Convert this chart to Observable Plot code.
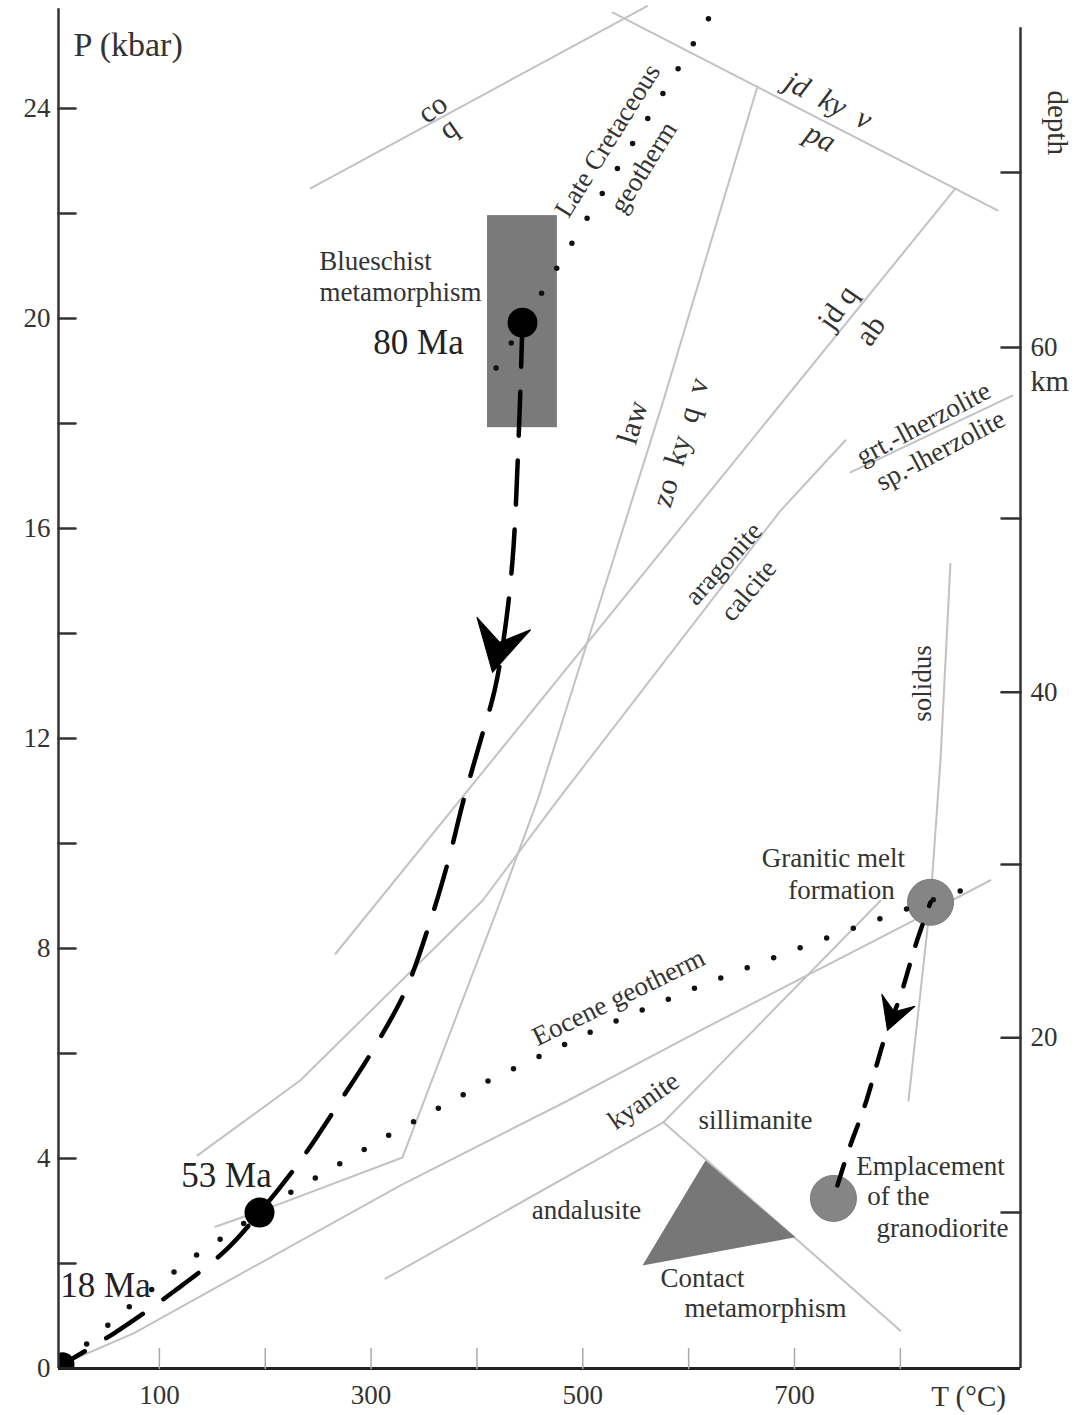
<!DOCTYPE html>
<html><head><meta charset="utf-8">
<script src="https://cdn.jsdelivr.net/npm/d3@7"></script>
<script src="https://cdn.jsdelivr.net/npm/@observablehq/plot@0.6"></script>
<style>body{margin:0;background:#fff} #chart svg{display:block}</style>
</head><body><div id="chart"></div>
<script>
// ---------- axes ----------
const T_DOMAIN = [4.7, 913.5];
const P_DOMAIN = [0, 26];
const P_TOP_LEFT = 25.9;
const P_TOP_RIGHT = 25.54;
const xTickValues = [100, 200, 300, 400, 500, 600, 700, 800];
const xTickLabels = [100, 300, 500, 700];
const yTickValues = [2, 4, 6, 8, 10, 12, 14, 16, 18, 20, 22, 24];
const yTickLabels = [0, 4, 8, 12, 16, 20, 24];
const depthTickP = [2.97, 6.30, 9.60, 12.88, 16.19, 19.45, 22.78];
const depthTickKm = ["", "20", "", "40", "", "60", ""];

// ---------- reaction lines [T (°C), P (kbar)] ----------
const coqLine = [[242.8, 22.48], [560.8, 25.95]];
const jdKyVPaLine = [[528.1, 25.83], [891.8, 22.06]];
const lawLine = [[665.0, 24.42], [576.2, 18.44], [457.2, 10.82], [422.3, 8.91], [329.7, 4.02], [214.4, 3.14], [153.0, 2.70]];
const jdQAbLine = [[852.1, 22.48], [266.4, 7.90]];
const aragoniteCalciteLine = [[748.2, 17.68], [686.8, 16.34], [476.1, 10.82], [405.2, 8.91], [233.3, 5.49], [136.0, 4.06]];
const lherzoliteLine = [[752.9, 17.07], [905.9, 18.53]];
const longLine = [[11.3, 0.11], [75.6, 0.67], [327.8, 3.49], [485.6, 5.10], [611.2, 6.44], [812.4, 8.53], [885.1, 9.30]];
const kyAndLine = [[313.6, 1.71], [576.2, 4.69]];
const kySillLine = [[576.2, 4.69], [781.2, 8.91]];
const andSillLine = [[576.2, 4.69], [800.1, 0.72]];
const solidusLine = [[847.3, 15.33], [837.9, 11.58], [828.5, 8.91], [807.7, 5.10]];

// ---------- geotherms ----------
const lateCretaceousGeotherm = [[618.7, 25.71], [405.2, 18.63]];
const eoceneGeotherm = [[11.3, 0.11], [66.1, 1.09], [131.3, 2.11], [222.0, 3.33], [316.5, 4.44], [412.8, 5.50], [514.8, 6.48], [615.9, 7.33], [717.9, 8.11], [820.9, 8.86], [872.8, 9.20]];

// ---------- P-T paths ----------
const exhumationPath = [[443.0, 19.92], [439.3, 17.68], [433.6, 15.39], [425.1, 13.87], [416.6, 12.91], [403.4, 11.96], [387.3, 10.82], [373.1, 9.68], [356.1, 8.53], [332.5, 7.20], [304.2, 6.15], [271.1, 5.10], [233.3, 3.96], [194.6, 2.97], [162.5, 2.25], [115.2, 1.49], [58.6, 0.69], [11.3, 0.11]];
const granitePath = [[828.5, 8.88], [814.3, 8.06], [800.1, 7.10], [785.9, 6.34], [767.1, 5.05], [751.0, 4.15], [736.8, 3.24]];
const arrowTips = [{T: 414.7, P: 13.26, dir: 193}, {T: 787.8, P: 6.44, dir: 200}];

// ---------- fields ----------
const blueschistBox = [{T1: 410, T2: 476, P1: 17.92, P2: 21.96}];
const contactTriangle = [[615.9, 3.96], [556.4, 1.96], [700.9, 2.50]];
const meltSpots = [{T: 828.5, P: 8.88}, {T: 736.8, P: 3.24}];
const ageSpots = [{T: 443.0, P: 19.92, age: "80 Ma"}, {T: 194.6, P: 2.97, age: "53 Ma"}];
const originSpot = [{T: 8.5, P: 0.08, age: "18 Ma"}];

// ---------- labels ----------
const fieldLabels = [
  {text: "Blueschist", T: 304.2, P: 21.09},
  {text: "metamorphism", T: 327.8, P: 20.50},
  {text: "Granitic melt", T: 736.8, P: 9.71},
  {text: "formation", T: 744.4, P: 9.10},
  {text: "Emplacement", T: 828.5, P: 3.85},
  {text: "of the", T: 798.2, P: 3.28},
  {text: "granodiorite", T: 839.8, P: 2.67},
  {text: "Contact", T: 613.1, P: 1.71},
  {text: "metamorphism", T: 672.6, P: 1.14},
  {text: "andalusite", T: 503.5, P: 3.01},
  {text: "sillimanite", T: 663.1, P: 4.72}
];
const lineLabels = [
  {text: "Late Cretaceous", T: 523.3, P: 23.39, rot: -58},
  {text: "geotherm", T: 557.3, P: 22.88, rot: -58},
  {text: "Eocene geotherm", T: 533.7, P: 7.07, rot: -26},
  {text: "kyanite", T: 557.3, P: 5.10, rot: -35},
  {text: "aragonite", T: 632.9, P: 15.33, rot: -48},
  {text: "calcite", T: 656.5, P: 14.82, rot: -50},
  {text: "grt.-lherzolite", T: 821.8, P: 18.0, rot: -28},
  {text: "sp.-lherzolite", T: 837.9, P: 17.49, rot: -28},
  {text: "solidus", T: 820.9, P: 13.05, rot: -90}
];
const phaseLabels = [
  {text: "co", T: 358, P: 24.0, rot: -35},
  {text: "q", T: 373, P: 23.62, rot: -35},
  {text: "jd q", T: 740.6, P: 20.21, rot: -55},
  {text: "ab", T: 771.8, P: 19.77, rot: -55},
  {text: "law", T: 547, P: 18.02, rot: -73},
  {text: "zo  ky  q  v", T: 592.3, P: 17.64, rot: -73}
];
const italicLabels = [
  {text: "jd  ky  v", T: 732.1, P: 24.15, rot: 27},
  {text: "pa", T: 724.5, P: 23.45, rot: 27}
];
const ageLabels = [
  {text: "80 Ma", T: 344.8, P: 19.54},
  {text: "53 Ma", T: 163.4, P: 3.68},
  {text: "18 Ma", T: 49.1, P: 1.58}
];
const axisTitles = [
  {text: "P (kbar)", T: 18.9, P: 25.2, anchor: "start", rot: 0},
  {text: "T (°C)", T: 864.4, P: -0.53, anchor: "middle", rot: 0},
  {text: "depth", T: 948.4, P: 23.73, anchor: "middle", rot: 90},
  {text: "km", T: 922.9, P: 18.8, anchor: "start", rot: 0}
];

// ---------- build ----------
const rows = (id, pts) => pts.map(([T, P]) => ({id, T, P}));
const reactionRows = [
  ...rows("coq", coqLine), ...rows("jdkyv", jdKyVPaLine), ...rows("law", lawLine),
  ...rows("jdqab", jdQAbLine), ...rows("arag", aragoniteCalciteLine), ...rows("lherz", lherzoliteLine),
  ...rows("long", longLine), ...rows("kyand", kyAndLine), ...rows("kysill", kySillLine),
  ...rows("andsill", andSillLine), ...rows("solidus", solidusLine)
];
const tickShape = {draw(ctx, l) { ctx.moveTo(0, 0); ctx.lineTo(0, -l); }};
const arrowShape = {draw(ctx, l) {
  ctx.moveTo(0, -l); ctx.lineTo(0.55 * l, 0); ctx.lineTo(0, -0.38 * l); ctx.lineTo(-0.55 * l, 0); ctx.closePath();
}};
const TXT = "#333";
const LINE = "#c2c2c2";
const depthLabelOf = new Map(depthTickP.map((p, i) => [p, depthTickKm[i]]));

const chart = Plot.plot({
  width: 1085, height: 1415,
  marginLeft: 58, marginRight: 65, marginTop: 3, marginBottom: 47,
  x: {domain: T_DOMAIN},
  y: {domain: P_DOMAIN},
  style: {fontFamily: "'Liberation Serif', 'Times New Roman', serif", background: "#fff", color: "#222"},
  marks: [
    Plot.line(reactionRows, {x: "T", y: "P", z: "id", stroke: LINE, strokeWidth: 2}),
    Plot.rect(blueschistBox, {x1: "T1", x2: "T2", y1: "P1", y2: "P2", fill: "#7a7a7a"}),
    Plot.line(rows("tri", contactTriangle), {x: "T", y: "P", fill: "#777", stroke: "none"}),
    Plot.dot(meltSpots, {x: "T", y: "P", r: 23, fill: "#858585", stroke: "#7a7a7a", strokeWidth: 1}),
    Plot.line(rows("lk", lateCretaceousGeotherm), {x: "T", y: "P", stroke: "#111", strokeWidth: 5.5, strokeDasharray: "0,29.2", strokeLinecap: "round"}),
    Plot.line(rows("eo", eoceneGeotherm), {x: "T", y: "P", stroke: "#111", strokeWidth: 5.5, strokeDasharray: "0,28.3", strokeLinecap: "round"}),
    Plot.line(rows("ex", exhumationPath), {x: "T", y: "P", stroke: "#000", strokeWidth: 4.5, strokeDasharray: "44,25", curve: "catmull-rom"}),
    Plot.line(rows("gr", granitePath), {x: "T", y: "P", stroke: "#000", strokeWidth: 4.5, strokeDasharray: "22,20", strokeDashoffset: -24, curve: "catmull-rom"}),
    Plot.vector(arrowTips.slice(0, 1), {x: "T", y: "P", rotate: "dir", length: 50, anchor: "end", shape: arrowShape, fill: "#000", stroke: "#000", strokeWidth: 1}),
    Plot.vector(arrowTips.slice(1), {x: "T", y: "P", rotate: "dir", length: 32, anchor: "end", shape: arrowShape, fill: "#000", stroke: "#000", strokeWidth: 1}),
    Plot.dot(ageSpots, {x: "T", y: "P", r: 15, fill: "#000"}),
    Plot.dot(originSpot, {x: "T", y: "P", r: 12, fill: "#000", clip: true}),
    Plot.ruleX([T_DOMAIN[0]], {y1: 0, y2: P_TOP_LEFT, stroke: "#333", strokeWidth: 2.5}),
    Plot.ruleX([T_DOMAIN[1]], {y1: 0, y2: P_TOP_RIGHT, stroke: "#333", strokeWidth: 2.5}),
    Plot.ruleY([0], {x1: T_DOMAIN[0], x2: T_DOMAIN[1], stroke: "#222", strokeWidth: 3}),
    Plot.vector(xTickValues, {x: d => d, y: 0, length: 20, rotate: 0, anchor: "start", shape: tickShape, stroke: "#aaa", strokeWidth: 1.5}),
    Plot.vector(yTickValues, {x: T_DOMAIN[0], y: d => d, length: 17, rotate: 90, anchor: "start", shape: tickShape, stroke: "#333", strokeWidth: 2.5}),
    Plot.vector(depthTickP, {x: T_DOMAIN[1], y: d => d, length: 19, rotate: -90, anchor: "start", shape: tickShape, stroke: "#333", strokeWidth: 2.5}),
    Plot.axisX(xTickLabels, {tickSize: 0, tickPadding: 16, fontSize: 27, color: TXT, label: null, tickFormat: d => String(d)}),
    Plot.axisY(yTickLabels, {tickSize: 0, tickPadding: 8, fontSize: 27, color: TXT, label: null, tickFormat: d => String(d)}),
    Plot.axisY(depthTickP, {anchor: "right", tickSize: 0, tickPadding: 10, fontSize: 27, color: TXT, label: null, tickFormat: d => depthLabelOf.get(d)}),
    Plot.text(fieldLabels, {x: "T", y: "P", text: "text", fontSize: 27, fill: TXT}),
    Plot.text(lineLabels, {x: "T", y: "P", text: "text", rotate: "rot", fontSize: 27, fill: TXT}),
    Plot.text(phaseLabels, {x: "T", y: "P", text: "text", rotate: "rot", fontSize: 30, fill: TXT}),
    Plot.text(italicLabels, {x: "T", y: "P", text: "text", rotate: "rot", fontSize: 30, fontStyle: "italic", fill: TXT}),
    Plot.text(ageLabels, {x: "T", y: "P", text: "text", fontSize: 35, fill: "#222"}),
    Plot.text(axisTitles, {x: "T", y: "P", text: "text", rotate: "rot", textAnchor: "start", fontSize: 30, fill: TXT, filter: d => d.anchor === "start" && d.text !== "P (kbar)"}),
    Plot.text(axisTitles, {x: "T", y: "P", text: "text", rotate: "rot", fontSize: 29, fill: TXT, filter: d => d.anchor === "middle"}),
    Plot.text(axisTitles, {x: "T", y: "P", text: "text", textAnchor: "start", fontSize: 34, fill: TXT, filter: d => d.text === "P (kbar)"})
  ]
});
document.getElementById("chart").appendChild(chart);
</script></body></html>
